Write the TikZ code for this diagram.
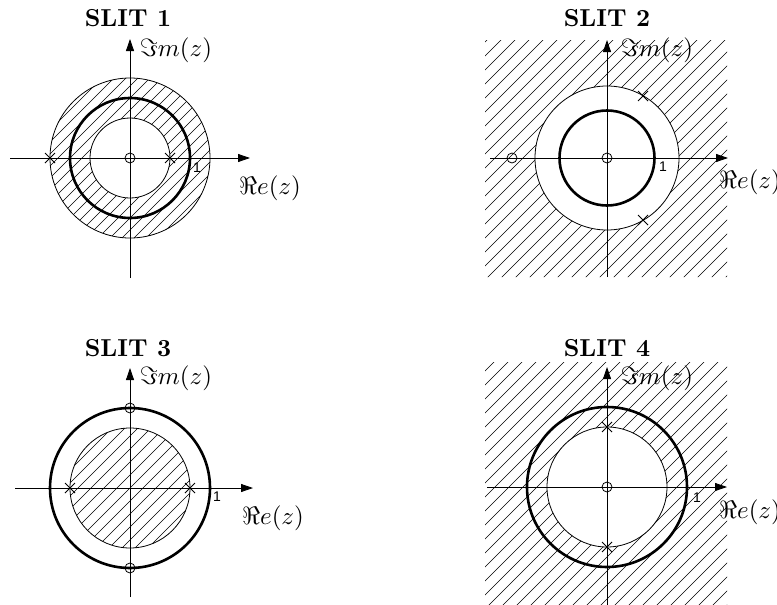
\documentclass[tikz,border=0pt]{standalone}
\usepackage{fontspec}
\usepackage{graphicx}
\newfontfamily\onefont{Liberation Sans}
\usetikzlibrary{arrows.meta}
\newcommand\polex[1]{\draw[fine] (#1) ++(-5,-5) -- ++(10,10) (#1) ++(-5,5) -- ++(10,-10);}
\newcommand\zerox[1]{\draw[fine] (#1) circle[radius=5pt];}
\newcommand\ttltext[1]{\scalebox{2.45}{\bfseries #1}}
\newcommand\lbltext[1]{\scalebox{2.5}{#1}}
\newcommand\onetext[1]{\scalebox{1.4}{\onefont #1}}
\begin{document}
\begin{tikzpicture}[x=1pt,y=-1pt,
  fine/.style={line width=0.8pt},
  thickcirc/.style={line width=2.6pt},
  hatchline/.style={line width=0.6pt},
  axis/.style={line width=0.8pt,-{Triangle[length=12pt,width=8pt]}},
  txt/.style={inner sep=0pt}]
\useasboundingbox (0,0) rectangle (777,605);
% origins
\coordinate (O1) at (130,158);
\coordinate (O2) at (607,158);
\coordinate (O3) at (130,488);
\coordinate (O4) at (607,487);
% ---------- titles
\node[txt] (t1) at (128,18) {\ttltext{SLIT 1}};
\node[txt] (t2) at (607,18) {\ttltext{SLIT 2}};
\node[txt] (t3) at (128,348) {\ttltext{SLIT 3}};
\node[txt] (t4) at (607,348) {\ttltext{SLIT 4}};
% ---------- axis labels
\node[txt] (im1) at (176,50) {\lbltext{$\Im m(z)$}};
\node[txt] (re1) at (270,188) {\lbltext{$\Re e(z)$}};
\node[txt] (im2) at (657,50) {\lbltext{$\Im m(z)$}};
\node[txt] (re2) at (750,182) {\lbltext{$\Re e(z)$}};
\node[txt] (im3) at (176,378) {\lbltext{$\Im m(z)$}};
\node[txt] (re3) at (273,518) {\lbltext{$\Re e(z)$}};
\node[txt] (im4) at (657,378) {\lbltext{$\Im m(z)$}};
\node[txt] (re4) at (750,512) {\lbltext{$\Re e(z)$}};
% ---------- hatching
\begin{scope}[even odd rule]
  \clip (O1) circle[radius=80pt] (O1) circle[radius=40pt];
  \foreach \k in {-156,-144,...,156} \draw[hatchline] (O1) ++(\k-200,200) -- ++(400,-400);
\end{scope}
\begin{scope}[even odd rule]
  \clip (485,40) rectangle (727,277) (O2) circle[radius=72pt];
  \foreach \k in {-266,-252,...,266} \draw[hatchline] (O2) ++(\k-200,200) -- ++(400,-400);
\end{scope}
\begin{scope}
  \clip (O3) circle[radius=60pt];
  \foreach \k in {-117,-104,...,117} \draw[hatchline] (O3) ++(\k-200,200) -- ++(400,-400);
\end{scope}
\begin{scope}[even odd rule]
  \clip (485,362) rectangle (727,610) (O4) circle[radius=60pt];
  \foreach \k in {-266,-252,...,266} \draw[hatchline] (O4) ++(\k-200,200) -- ++(400,-400);
\end{scope}
% ---------- panel 1
\draw[fine] (O1) circle[radius=80pt];
\draw[fine] (O1) circle[radius=40pt];
\draw[thickcirc] (O1) circle[radius=60pt];
\coordinate (h1a) at (10,158); \coordinate (h1b) at (250,158);
\coordinate (v1a) at (130,278); \coordinate (v1b) at (130,39);
\draw[axis] (h1a) -- (h1b);
\draw[axis] (v1a) -- (v1b);
\polex{50,158} \polex{170,158}
\zerox{O1}
\node[txt] (u1) at (197,168) {\onetext{1}};
% ---------- panel 2
\draw[fine] (O2) circle[radius=72pt];
\draw[thickcirc] (O2) circle[radius=47.5pt];
\coordinate (h2a) at (490,158); \coordinate (h2b) at (728,158);
\coordinate (v2a) at (607,277); \coordinate (v2b) at (607,40);
\draw[axis] (h2a) -- (h2b);
\draw[axis] (v2a) -- (v2b);
\polex{643,96} \polex{643,220}
\zerox{O2} \zerox{512,158}
\node[txt] (u2) at (663,167) {\onetext{1}};
% ---------- panel 3
\draw[fine] (O3) circle[radius=60pt];
\draw[thickcirc] (O3) circle[radius=80pt];
\coordinate (h3a) at (15,488); \coordinate (h3b) at (253,488);
\coordinate (v3a) at (130,597); \coordinate (v3b) at (130,368);
\draw[axis] (h3a) -- (h3b);
\draw[axis] (v3a) -- (v3b);
\polex{70,488} \polex{190,488}
\zerox{130,408} \zerox{130,568}
\node[txt] (u3) at (217,497) {\onetext{1}};
% ---------- panel 4
\draw[fine] (O4) circle[radius=60pt];
\draw[thickcirc] (O4) circle[radius=80pt];
\coordinate (h4a) at (487,487); \coordinate (h4b) at (727,487);
\coordinate (v4a) at (607,610); \coordinate (v4b) at (607,367);
\draw[axis] (h4a) -- (h4b);
\draw[axis] (v4a) -- (v4b);
\polex{607,427} \polex{607,547}
\zerox{O4}
\node[txt] (u4) at (697,498) {\onetext{1}};
\end{tikzpicture}
\end{document}
